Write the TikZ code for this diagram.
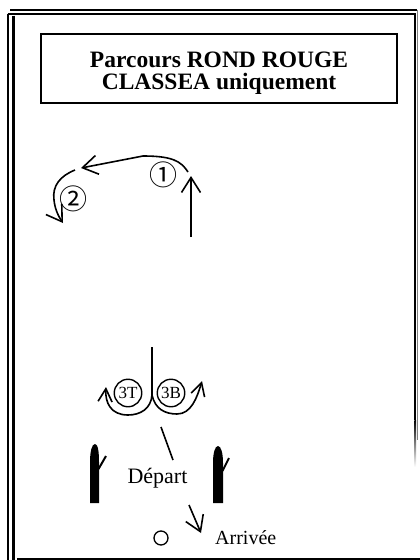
\documentclass[tikz,border=0pt]{standalone}
\usepackage{fontspec}
\setmainfont{Liberation Serif}
\newfontfamily\cjkfont{Noto Sans CJK JP}
\usetikzlibrary{arrows.meta}
\begin{document}
\begin{tikzpicture}[x=1pt,y=-1pt,
  frameline/.style={line width=1.7pt},
  route/.style={line width=1.6pt},
  bighead/.style={-{Straight Barb[length=15pt,width=19pt]}},
  smallhead/.style={-{Straight Barb[length=13pt,width=14pt]}},
  postshape/.style={fill=black},
  branchline/.style={line width=2pt},
  label/.style={inner sep=0pt},
  holder/.style={draw,circle,line width=1.4pt,minimum size=27.5pt,inner sep=0pt}]
\useasboundingbox (0,0) rectangle (420,560);
% outer double frame
\draw[frameline] (10,10) -- (417,10);
\draw[frameline] (7.5,14) -- (416,14);
\draw[frameline] (8.2,14) -- (8.2,560);
\draw[line width=2.6pt] (13.7,15.5) -- (13.7,560);
\draw[frameline] (415.2,14) -- (415.2,420);
\shade[top color=black,bottom color=white] (414.35,420) rectangle (416.05,467);
\draw[line width=0.8pt,gray] (417.8,10) -- (417.8,440);
\draw[line width=2pt] (17.3,558.5) -- (420,558.5);
% title
\node[draw,line width=1.5pt,minimum width=356pt,minimum height=69pt,inner sep=0pt] (title) at (219,68.5) {};
\node[label,anchor=base] (t1) at (219,67) {\fontsize{23.5}{23.5}\selectfont\bfseries Parcours ROND ROUGE};
\node[label,anchor=base] (t2) at (219,89) {\fontsize{23.5}{23.5}\selectfont\bfseries CLASSEA uniquement};
% step 1 and 2
\coordinate (a0) at (191,237);
\coordinate (a1) at (191,176);
\draw[route,bighead] (a0) -- (a1);
\coordinate (b0) at (188,172);
\coordinate (b1) at (81,168);
\draw[route,bighead] (b0) .. controls (181,161) and (172,156) .. (143,156) -- (b1);
\node[label] (n1) at (163,175) {\cjkfont\fontsize{28}{28}\selectfont ①};
\coordinate (c0) at (75,170);
\coordinate (c1) at (63,223);
\draw[route,bighead] (c0) .. controls (60,176) and (52,186) .. (54,200) .. controls (55,210) and (59,217) .. (c1);
\node[label] (n2) at (73,199) {\cjkfont\fontsize{28}{28}\selectfont ②};
% step 3
\node[holder] (h3t) at (128,393) {\fontsize{17}{17}\selectfont 3T};
\node[holder] (h3b) at (171,393) {\fontsize{17}{17}\selectfont 3B};
\coordinate (s0) at (152,347);
\coordinate (s1) at (152,395);
\coordinate (lt) at (106,387);
\coordinate (rt) at (202,381);
\draw[route] (s0) -- (s1);
\draw[route,smallhead] (s1) .. controls (151,409) and (140,415) .. (128,415) .. controls (111,415) and (105,403) .. (lt);
\draw[route,smallhead] (s1) .. controls (155,409) and (165,414) .. (177,414) .. controls (191,414) and (197,398) .. (rt);
% start
\node[label,anchor=base] (dep) at (157.5,483) {\fontsize{22}{22}\selectfont Départ};
\coordinate (d0) at (161,427);
\coordinate (d1) at (173,460);
\draw[route] (d0) -- (d1);
% posts
\fill[postshape] (90,503) -- (90,462) .. controls (90,451) and (92,444) .. (95,444) .. controls (98,444) and (99,452) .. (99,462) -- (99,503) -- cycle;
\draw[branchline] (98.5,469) -- (106,456);
\fill[postshape] (213,503) -- (213,463) .. controls (213,453) and (215,446) .. (218,446) .. controls (221,446) and (223,453) .. (223,463) -- (223,503) -- cycle;
\draw[branchline] (222.5,471) -- (229,458);
% finish
\node[draw,circle,minimum size=14pt,line width=1.3pt,inner sep=0pt] (fin) at (161,538) {};
\coordinate (e0) at (189,505);
\coordinate (e1) at (201,533);
\draw[route,bighead] (e0) -- (e1);
\node[label,anchor=base west] (arr) at (215,544) {\fontsize{20}{20}\selectfont Arrivée};
\end{tikzpicture}
\end{document}
